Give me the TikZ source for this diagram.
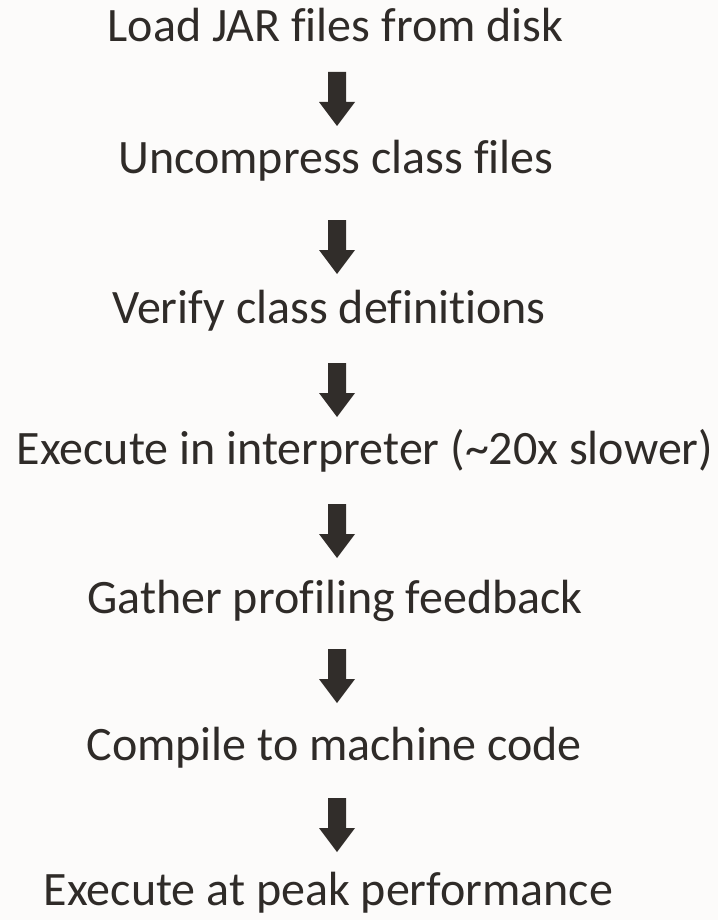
\documentclass[tikz,border=0pt]{standalone}
\usepackage{fontspec}
\setmainfont{Carlito}[RawFeature={-liga;-clig;-dlig}]
\definecolor{pagebg}{HTML}{FCFBFA}
\definecolor{ink}{HTML}{2F2B28}
\definecolor{arrowink}{HTML}{312D2A}
\tikzset{
  steplabel/.style={text=ink, font=\fontsize{48}{52}\selectfont, inner sep=0pt, anchor=base},
  blockarrow/.pic={
    \fill[arrowink] (-9,0) -- (9,0) -- (9,30) -- (18,30) -- (0,54) -- (-18,30) -- (-9,30) -- cycle;
  }
}
\begin{document}
\begin{tikzpicture}[x=1pt, y=-1pt]
  \fill[pagebg] (0,0) rectangle (718,920);
  \useasboundingbox (0,0) rectangle (718,920);

  % step captions, one per stage
  \node[steplabel] (s1) at (335.5,42)  {Load JAR files from disk};
  \node[steplabel] (s2) at (336,174)   {Uncompress class files};
  \node[steplabel] (s3) at (329,323)   {Verify class definitions};
  \node[steplabel] (s4) at (365,464)   {Execute in interpreter (\textasciitilde20x slower)};
  \node[steplabel] (s5) at (335,613)   {Gather profiling feedback};
  \node[steplabel] (s6) at (334,760)   {Compile to machine code};
  \node[steplabel] (s7) at (328.5,905) {Execute at peak performance};

  % block arrows between consecutive steps
  \pic at (337,72)  {blockarrow};
  \pic at (337,220) {blockarrow};
  \pic at (337,363) {blockarrow};
  \pic at (337,504) {blockarrow};
  \pic at (337,649) {blockarrow};
  \pic at (337,798) {blockarrow};
\end{tikzpicture}
\end{document}
